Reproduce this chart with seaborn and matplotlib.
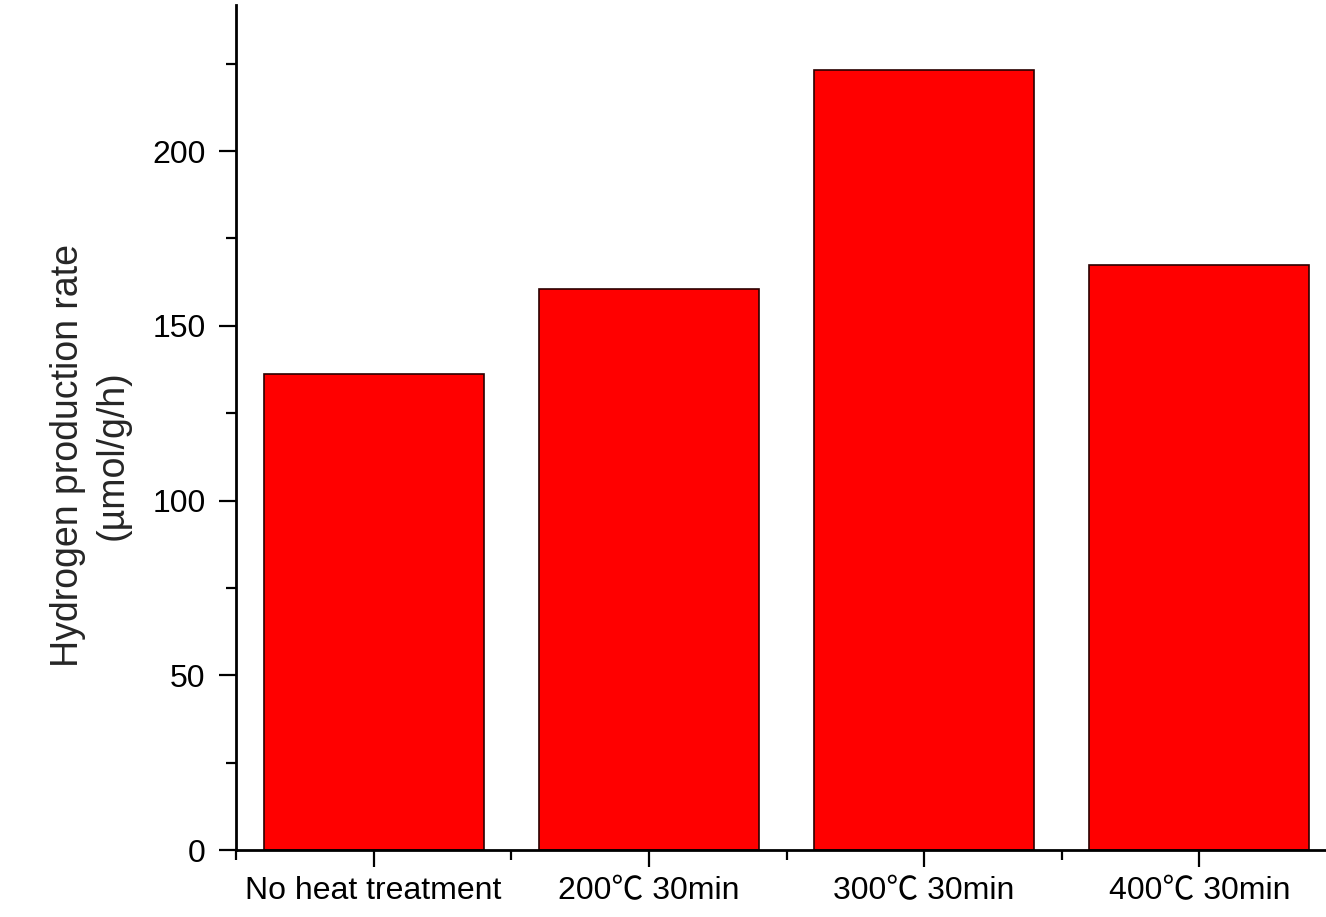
import matplotlib
matplotlib.use("Agg")
import matplotlib.pyplot as plt
import seaborn as sns
import pandas as pd
from matplotlib.ticker import MultipleLocator, FixedLocator

categories = ["No heat treatment", "200\u2103 30min", "300\u2103 30min", "400\u2103 30min"]
rates = [136.2, 160.6, 223.3, 167.4]
y_ticks = [0, 50, 100, 150, 200]
y_label = "Hydrogen production rate\n(\u00b5mol/g/h)"

df = pd.DataFrame({"condition": categories, "rate": rates})

sns.set_style("ticks")
plt.rcParams["font.family"] = ["Liberation Sans", "Noto Sans CJK SC", "DejaVu Sans"]

fig = plt.figure(figsize=(13.26, 9.17), dpi=100)
ax = fig.add_axes([236 / 1326, 67 / 917, 1101 / 1326, 845 / 917])

sns.barplot(data=df, x="condition", y="rate", order=categories, color="#ff0000",
            saturation=1, width=0.8, edgecolor="#2a0000", linewidth=1.2, ax=ax)

ax.set_xlim(-0.5, 3.5)
ax.set_ylim(0, 241.8)
ax.set_yticks(y_ticks)
ax.yaxis.set_minor_locator(MultipleLocator(25))
ax.xaxis.set_minor_locator(FixedLocator([-0.5, 0.5, 1.5, 2.5, 3.5]))

for s in ["top", "right"]:
    ax.spines[s].set_visible(False)
for s in ["left", "bottom"]:
    ax.spines[s].set_linewidth(2.0)
    ax.spines[s].set_color("black")

ax.tick_params(axis="both", which="major", direction="out", length=12, width=1.6,
               labelsize=23, colors="black", pad=7)
ax.tick_params(axis="y", which="major", pad=10)
ax.tick_params(axis="both", which="minor", direction="out", length=7, width=1.6, colors="black")

ax.set_xlabel("")
ax.set_ylabel(y_label, fontsize=27, linespacing=1.3)
ax.yaxis.set_label_coords(-0.096, 0.467)

fig.savefig("out.png", dpi=100, facecolor="white")
